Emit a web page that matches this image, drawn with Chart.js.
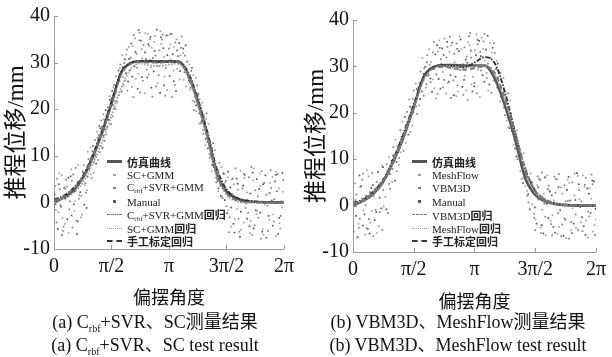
<!DOCTYPE html>
<html>
<head>
<meta charset="utf-8">
<script src="https://cdn.jsdelivr.net/npm/chart.js@4"></script>
<style>
body { margin: 0; width: 612px; height: 357px; background: #fff; position: relative; overflow: hidden;
       font-family: 'Liberation Serif', 'Noto Sans CJK SC', serif; color: #111; }
canvas { position: absolute; }
#c1 { left: 0; top: 0; }
#c2 { left: 300px; top: 4px; }
.legend { position: absolute; font-size: 11px; color: #222; }
.legend .row { height: 13.3px; display: flex; align-items: center; white-space: nowrap; }
.legend .mark { width: 15px; margin-right: 5px; display: flex; align-items: center; justify-content: center; }
.legend .cn { font-family: 'Noto Sans CJK SC'; font-weight: bold; }
.legend sub { font-size: 7px; vertical-align: -2px; }
.cap { position: absolute; font-size: 18px; white-space: nowrap; transform: translateX(-50%); }
.cap sub { font-size: 10px; vertical-align: -4px; }
.cap .cn { font-family: 'Noto Sans CJK SC'; }
</style>
</head>
<body>
<canvas id="c1" width="300" height="310"></canvas>
<canvas id="c2" width="312" height="310"></canvas>
<div class="legend" id="lg1" style="left:107px; top:155px;"></div>
<div class="legend" id="lg2" style="left:412px; top:155px;"></div>
<div class="cap" style="left:155px; top:307px;">(a) C<sub>rbf</sub>+SVR<span class="cn">、</span>SC<span class="cn">测量结果</span></div>
<div class="cap" style="left:155px; top:330px;">(a) C<sub>rbf</sub>+SVR<span class="cn">、</span>SC test result</div>
<div class="cap" style="left:458px; top:307px;">(b) VBM3D<span class="cn">、</span>MeshFlow<span class="cn">测量结果</span></div>
<div class="cap" style="left:458px; top:330px;">(b) VBM3D<span class="cn">、</span>MeshFlow test result</div>
<script>
// angles in degrees, shown as multiples of pi
const angleDeg = [0, 15, 30, 45, 60, 75, 90, 105, 120, 135, 150, 165, 180, 195, 210, 225, 240, 255, 270, 285, 300, 315, 330, 345, 360];
const xTickValues = [0, 90, 180, 270, 360];
const xTickLabels = ['0', 'π/2', 'π', '3π/2', '2π'];

// simulated curve (same for both panels)
const simCurve = [0, 1, 2.5, 5.2, 9.5, 14.8, 21.2, 27.8, 29.9, 30.3, 30.3, 30.2, 30.2, 30.2, 27.4, 21.6, 14.4, 6, 2.3, 0.9, 0.3, 0.1, 0, 0, 0];

// panel (a) regressions
const crbfReg = [0.3, 1.2, 2.8, 5.3, 9.6, 14.9, 21, 27.4, 29.7, 30.1, 30, 30, 30.1, 30.1, 27.6, 21.8, 14.6, 6.5, 2, 0.5, 0.1, 0, 0, 0, 0];
const scReg = [0.5, 0.9, 2, 4.2, 8, 12.8, 18.6, 24.5, 28.6, 29.8, 29.4, 29.3, 29.6, 29.8, 27.2, 21, 13.8, 5.9, 1.6, 0.3, 0, 0, 0, 0, 0];
const manualRegA = [0.6, 1.4, 3, 5.6, 10, 15.4, 21.6, 27.9, 29.9, 30.3, 30.4, 30.3, 30.3, 30.2, 27.9, 22.3, 15.2, 7.2, 2.8, 1.1, 0.4, 0.2, 0.1, 0, 0];

// panel (b) regressions
const vbmReg = [0.5, 1.2, 2.8, 5.4, 9.8, 15.2, 21.4, 27.4, 29.6, 29.9, 29.5, 29.3, 29.6, 30, 28.6, 23.2, 16, 8.2, 3.2, 1.2, 0.5, 0.2, 0.1, 0, 0];
const meshReg = [0.3, 1, 2.6, 5.1, 9.4, 14.8, 21, 27.2, 29.7, 30.1, 30, 29.8, 30, 30.2, 28.3, 22.6, 15.4, 7.6, 2.8, 1, 0.3, 0.1, 0, 0, 0];
const manualRegB = [0.6, 1.3, 3, 5.6, 10.1, 15.6, 21.8, 27.8, 29.9, 30.2, 30, 29.8, 30.8, 32, 30.7, 24.5, 15.8, 7.8, 3.2, 1.3, 0.5, 0.2, 0.1, 0, 0];

// panel (a) measured points [angle, displacement]
const scPts = [[2,3.5],[7,-2.1],[12,5.8],[17,-4.6],[22,1.2],[27,7.1],[32,-1.8],[37,4.4],[42,-3.2],[47,8],[52,2.6],[57,11.8],[62,6.4],[67,15.2],[72,10.8],[77,18.9],[82,14.6],[87,22.8],[92,18.4],[97,27.1],[102,23],[107,31.6],[112,26.2],[117,33.4],[122,24.8],[127,35.2],[132,27.6],[137,32.9],[142,23.4],[147,36.1],[152,29],[157,34.4],[162,25.6],[167,36.8],[172,31.2],[177,24.1],[182,33.9],[187,28.3],[192,35],[197,26.4],[202,32.1],[207,24.9],[212,29.6],[217,21.8],[222,26.7],[227,16.9],[232,21.4],[237,12.3],[242,16.8],[247,6.7],[252,11.2],[257,2.4],[262,7.6],[267,-3.1],[272,5.4],[277,-5.2],[282,3.9],[287,-1.4],[292,6.8],[297,-4.3],[302,2.1],[307,-6.6],[312,4.7],[317,-2.5],[322,6.2],[327,-5.8],[332,1.6],[337,-3.7],[342,5.5],[347,-7.2],[352,3],[357,-1.1],
  [3,-1.6],[8,6.2],[13,-3.4],[18,2.9],[23,-6.5],[28,4.6],[33,0.3],[38,8.1],[43,1.4],[48,3.7],[53,10.9],[58,6],[63,9.4],[68,13.9],[73,12.1],[78,17.8],[83,16.1],[88,21.4],[93,24.7],[98,23.6],[103,28.8],[108,26.9],[113,31.7],[118,28.3],[123,33.6],[128,26.5],[133,34.8],[138,30.9],[143,36.3],[148,27.4],[153,33.2],[158,35.7],[163,29.3],[168,34],[173,27],[178,35.9],[183,30.6],[188,33.4],[193,28.7],[198,31.6],[203,26.3],[208,30.1],[213,24.2],[218,27.3],[223,19.6],[228,22.1],[233,15.5],[238,17.9],[243,10.4],[248,11.6],[253,5.3],[258,6.8],[263,1.2],[268,4.3],[273,-1.7],[278,4.9],[283,-3.6],[288,2.7],[293,-5.9],[298,5.2],[303,0.6],[308,-4],[313,7.3],[318,-1.8],[323,3.5],[328,-6.9],[333,1.7],[338,4.2],[343,-2.6],[348,6.6],[353,-4.5],[358,2.3]];
const crbfPts = [[4,-4.3],[9,2.8],[14,-6.1],[19,4.9],[24,-1.5],[29,-5.4],[34,7.4],[39,0.8],[44,-2.6],[49,4.1],[54,9.3],[59,5.2],[64,13.4],[69,9.1],[74,17.6],[79,13.2],[84,20.4],[89,16.8],[94,25.2],[99,21.5],[104,29.6],[109,25.1],[114,32.8],[119,28.4],[124,22.6],[129,31.9],[134,36.4],[139,26.1],[144,30.8],[149,33.6],[154,22.7],[159,31.5],[164,27.3],[169,34.9],[174,22.9],[179,30.4],[184,36.2],[189,25.2],[194,31.4],[199,33.2],[204,27.9],[209,30.3],[214,24.6],[219,19.8],[224,25.1],[229,20.2],[234,14.7],[239,19.1],[244,9.6],[249,12.7],[254,4.3],[259,8.5],[264,0.9],[269,4.6],[274,-6.4],[279,1.8],[284,7.3],[289,-3.5],[294,0.6],[299,5.9],[304,-2.2],[309,7.6],[314,-4.9],[319,1.3],[324,-7.8],[329,4.2],[334,-0.7],[339,6.9],[344,-4.1],[349,2.4],[354,-5.6],[359,4.8],
  [0,-2.3],[5,5.1],[10,-0.6],[15,-5.2],[20,3.4],[25,0.2],[30,6],[35,-3.9],[40,1.5],[45,6.7],[50,2.1],[55,7.2],[60,11],[65,10.1],[70,14.4],[75,16.2],[80,15.6],[85,19.6],[90,22.4],[95,21.7],[100,26.1],[105,27.3],[110,29.9],[115,24],[120,31.1],[125,35.9],[130,28.9],[135,23.6],[140,33.8],[145,28.5],[150,35],[155,31],[160,24.9],[165,32.6],[170,36],[175,28.8],[180,33],[185,22.6],[190,34.3],[195,29.8],[200,35.6],[205,31.5],[210,26.8],[215,28.2],[220,21.6],[225,22.9],[230,17],[235,18.4],[240,13],[245,12.5],[250,7.6],[255,5.1],[260,3.6],[265,6.3],[270,-0.8],[275,-3.2],[280,5.1],[285,0.9],[290,-6.3],[295,3],[300,-1.2],[305,5.4],[310,-7],[315,2.6],[320,-3.3],[325,6.7],[330,-0.3],[335,-6.1],[340,3.1],[345,0.7],[350,6.1],[355,-2.9]];
const manualPtsA = [[1,1.7],[6,-5.7],[11,-0.9],[16,3.1],[21,-3.6],[26,5.6],[31,-0.4],[36,-6.8],[41,2.2],[46,6.3],[51,-1.2],[56,7.9],[61,12.1],[66,8.3],[71,16.4],[76,11.7],[81,19.8],[86,17.7],[91,23.9],[96,20.1],[101,28.3],[106,23.8],[111,30.7],[116,25.9],[121,34.1],[126,29.2],[131,24.4],[136,34.7],[141,30.2],[146,26.8],[151,35.5],[156,28.1],[161,37.1],[166,23.5],[171,33.1],[176,35.8],[181,27.1],[186,31.8],[191,23.9],[196,34.2],[201,29.4],[206,33.7],[211,26.2],[216,28.9],[221,22.7],[226,23.3],[231,17.4],[236,15.9],[241,11.6],[246,10.1],[251,8.2],[256,4.6],[261,1.4],[266,6.1],[271,-2.3],[276,3.2],[281,-4.6],[286,5.1],[291,-7.4],[296,3.6],[301,-0.2],[306,-5.1],[311,6.4],[316,-1.7],[321,2.9],[326,-6.3],[331,5.8],[336,-2.9],[341,0.4],[346,4.5],[351,-6.8],[356,0.2],
  [2.5,-0.4],[7.5,3.9],[12.5,-7],[17.5,0.8],[22.5,5.3],[27.5,-2.8],[32.5,2.4],[37.5,-4.1],[42.5,5],[47.5,-0.5],[52.5,5.5],[57.5,9.1],[62.5,8.6],[67.5,12.7],[72.5,15.9],[77.5,14.3],[82.5,18.7],[87.5,22],[92.5,20.9],[97.5,25],[102.5,26],[107.5,29],[112.5,27.7],[117.5,30.8],[122.5,27],[127.5,32.3],[132.5,37],[137.5,26.9],[142.5,32.2],[147.5,34],[152.5,24.6],[157.5,32.5],[162.5,30],[167.5,35.4],[172.5,25.1],[177.5,31.6],[182.5,36.1],[187.5,26],[192.5,32.6],[197.5,28.2],[202.5,33],[207.5,28.6],[212.5,25.8],[217.5,25],[222.5,20.8],[227.5,19.1],[232.5,18.8],[237.5,13.6],[242.5,13.4],[247.5,8],[252.5,7.4],[257.5,3],[262.5,4.4],[267.5,0.5],[272.5,6.6],[277.5,-1.1],[282.5,-6.5],[287.5,4],[292.5,-2],[297.5,6.1],[302.5,-3.5],[307.5,1.9],[312.5,-5.6],[317.5,5],[322.5,-2.2],[327.5,3.9],[332.5,-7.6],[337.5,2],[342.5,-5],[347.5,5.9],[352.5,-3.3],[357.5,6.3]];

// panel (b) measured points
const meshPts = [[3,4.8],[8,-3.9],[13,1.6],[18,-6.2],[23,6.3],[28,-1.2],[33,3.7],[38,-4.4],[43,8.6],[48,1.9],[53,10.4],[58,5.1],[63,14.2],[68,8.8],[73,18.1],[78,13.5],[83,22.9],[88,17.2],[93,26.3],[98,21.6],[103,31.8],[108,25.4],[113,33.7],[118,27.2],[123,23.1],[128,35.6],[133,28.8],[138,24.2],[143,33.1],[148,29.7],[153,23.6],[158,36.4],[163,30.5],[168,24.8],[173,34.6],[178,27.7],[183,36.9],[188,23.4],[193,33.8],[198,28.6],[203,35.1],[208,26.9],[213,31.2],[218,22.4],[223,27.5],[228,18.3],[233,22.6],[238,13.1],[243,16.2],[248,7.4],[253,11.3],[258,3.2],[263,6.9],[268,-1.8],[273,4.4],[278,-4.7],[283,2.6],[288,6.5],[293,-3.3],[298,1.1],[303,-6.1],[308,3.9],[313,-2.7],[318,5.6],[323,-5.3],[328,2.2],[333,6.4],[338,-3.6],[343,4.1],[348,-6.9],[353,1.5],[358,-4.2],
  [0.5,2.1],[5.5,-6.9],[10.5,4],[15.5,-1],[20.5,7.6],[25.5,-3.7],[30.5,2],[35.5,-5.9],[40.5,4.8],[45.5,-0.2],[50.5,7.3],[55.5,8.1],[60.5,9.9],[65.5,12.8],[70.5,11.5],[75.5,15.7],[80.5,17.9],[85.5,19.5],[90.5,21],[95.5,24.4],[100.5,25.9],[105.5,29.6],[110.5,27.9],[115.5,31],[120.5,25.3],[125.5,33.2],[130.5,30.6],[135.5,36],[140.5,26.4],[145.5,34.5],[150.5,30.9],[155.5,24.6],[160.5,33.7],[165.5,28],[170.5,35.2],[175.5,26.1],[180.5,33.5],[185.5,29.3],[190.5,36.2],[195.5,31.3],[200.5,24.8],[205.5,33],[210.5,28.5],[215.5,26],[220.5,24],[225.5,22.3],[230.5,16.9],[235.5,17.2],[240.5,12.1],[245.5,10.5],[250.5,8.3],[255.5,4.2],[260.5,5.6],[265.5,0.3],[270.5,-3],[275.5,5.8],[280.5,-0.9],[285.5,-6.4],[290.5,3.3],[295.5,-2.1],[300.5,5.7],[305.5,-4.6],[310.5,2.6],[315.5,-7],[320.5,4.9],[325.5,-0.6],[330.5,-4.8],[335.5,1.4],[340.5,6.5],[345.5,-3.2],[350.5,3.8],[355.5,-5.6]];
const vbmPts = [[1,-5.6],[5,2.4],[10,-2.8],[15,6.9],[20,-4.9],[25,2.9],[30,-6.6],[35,5.1],[40,-1.4],[45,3.3],[50,8.9],[55,3.6],[60,12.6],[65,7.4],[70,16.3],[75,11.8],[80,20.2],[85,15.9],[90,24.8],[95,19.7],[100,28.9],[105,23.7],[110,32.4],[115,26.6],[120,35.3],[125,24.1],[130,31.6],[135,27.1],[140,34.2],[145,23.2],[150,32.7],[155,25.9],[160,30.3],[165,34.1],[170,22.8],[175,31.9],[180,26.4],[185,34.8],[190,29.1],[195,37],[200,30.6],[205,24.3],[210,32.9],[215,27.6],[220,24.1],[225,19.5],[230,24.2],[235,16.1],[240,12.4],[245,12],[250,5.8],[255,8.1],[260,0.7],[265,4.9],[270,-5.3],[275,1.3],[280,7.1],[285,-2.4],[290,4.3],[295,-6.4],[300,2.8],[305,6.8],[310,-4.1],[315,0.9],[320,-7.1],[325,5],[330,-1.9],[335,3.4],[340,-5.5],[345,6],[350,-2.3],[355,4.6],[360,-3],
  [3.5,1.2],[8.5,-4.8],[13.5,5.6],[18.5,0.1],[23.5,-2.9],[28.5,7],[33.5,-0.9],[38.5,4.6],[43.5,-5.2],[48.5,6],[53.5,4.7],[58.5,7.9],[63.5,11.4],[68.5,10.2],[73.5,14.6],[78.5,17.1],[83.5,18],[88.5,23],[93.5,21.4],[98.5,26.4],[103.5,27.6],[108.5,26.2],[113.5,30.4],[118.5,33],[123.5,28.3],[128.5,34],[133.5,25.5],[138.5,31.9],[143.5,36.4],[148.5,27],[153.5,34.9],[158.5,29.2],[163.5,23.9],[168.5,32.1],[173.5,37.2],[178.5,29.9],[183.5,24.2],[188.5,33.1],[193.5,35.4],[198.5,27.5],[203.5,31.8],[208.5,35],[213.5,25.4],[218.5,28.6],[223.5,21.1],[228.5,21.9],[233.5,18],[238.5,15.3],[243.5,10],[248.5,10.9],[253.5,6.1],[258.5,2.1],[263.5,3.9],[268.5,-2.6],[273.5,6.3],[278.5,-5.9],[283.5,0.4],[288.5,3.6],[293.5,-4],[298.5,6.2],[303.5,-1.6],[308.5,-6.6],[313.5,4.4],[318.5,1],[323.5,-3.5],[328.5,6.9],[333.5,-5.3],[338.5,0.9],[343.5,4.5],[348.5,-1.3],[353.5,6.7],[358.5,-6.3]];
const manualPtsB = [[2,0.6],[7,-6.8],[12,4.2],[17,-1.9],[22,-5],[27,3.8],[32,-3.1],[37,7.2],[42,-0.6],[47,5.8],[52,-1.6],[57,9.7],[62,5.4],[67,11.6],[72,14.8],[77,19.1],[82,15.3],[87,20.9],[92,22.2],[97,25.5],[102,24.6],[107,29.9],[112,28.1],[117,24.5],[122,32.6],[127,27.3],[132,33.9],[137,30.1],[142,26.7],[147,35.1],[152,27.8],[157,33.3],[162,25.6],[167,31.5],[172,36.5],[177,24.6],[182,32.4],[187,35.5],[192,28.1],[197,33.6],[202,26.1],[207,34],[212,29.4],[217,25.1],[222,23.3],[227,21.9],[232,16.7],[237,17.9],[242,10.6],[247,11.7],[252,4.9],[257,6.3],[262,-0.8],[267,2.7],[272,-3.9],[277,5.6],[282,-6],[287,0.4],[292,3],[297,-4.6],[302,5.7],[307,-1],[312,-6.5],[317,3.4],[322,1.1],[327,-3.9],[332,7],[337,-0.3],[342,-4.4],[347,3.7],[352,-1.6],[357,5.2],
  [4.5,-2.2],[9.5,6.5],[14.5,-4.3],[19.5,2.1],[24.5,-6],[29.5,4.4],[34.5,-1.4],[39.5,1.7],[44.5,8.3],[49.5,-0.8],[54.5,6.8],[59.5,10.8],[64.5,9.4],[69.5,13.6],[74.5,15.1],[79.5,17.4],[84.5,21.3],[89.5,20.1],[94.5,25.1],[99.5,23],[104.5,28.4],[109.5,30.9],[114.5,27.4],[119.5,29.4],[124.5,34.6],[129.5,25.2],[134.5,32.5],[139.5,35.3],[144.5,28.1],[149.5,23.8],[154.5,33.8],[159.5,35.8],[164.5,27.1],[169.5,30.8],[174.5,33.4],[179.5,25.7],[184.5,35.7],[189.5,32.2],[194.5,26.7],[199.5,36.6],[204.5,29.6],[209.5,27.4],[214.5,30.6],[219.5,23.5],[224.5,24.8],[229.5,19],[234.5,19.8],[239.5,14.2],[244.5,13],[249.5,8.6],[254.5,6.7],[259.5,2.5],[264.5,5.1],[269.5,-0.4],[274.5,3.9],[279.5,-4.2],[284.5,6.1],[289.5,-2.7],[294.5,2.2],[299.5,-5.8],[304.5,4],[309.5,0.2],[314.5,-3],[319.5,6.2],[324.5,-5.9],[329.5,1.2],[334.5,4.6],[339.5,-2.5],[344.5,-6.3],[349.5,2.6],[354.5,5.4],[359.5,-0.7]];

const legendA = ['<span class="cn">仿真曲线</span>', 'SC+GMM', 'C<sub>rbf</sub>+SVR+GMM', 'Manual',
  'C<sub>rbf</sub>+SVR+GMM<span class="cn">回归</span>', 'SC+GMM<span class="cn">回归</span>', '<span class="cn">手工标定回归</span>'];
const legendB = ['<span class="cn">仿真曲线</span>', 'MeshFlow', 'VBM3D', 'Manual',
  'VBM3D<span class="cn">回归</span>', 'MeshFlow<span class="cn">回归</span>', '<span class="cn">手工标定回归</span>'];

const FONT = '"Liberation Serif", "Noto Sans CJK SC", serif';
Chart.defaults.font.family = FONT;

const styles = [
  { kind: 'line', color: '#555', width: 2.6, dash: [] },
  { kind: 'dot', color: '#a0a0a0' },
  { kind: 'dot', color: '#808080' },
  { kind: 'dot', color: '#585858' },
  { kind: 'line', color: '#777', width: 1.8, dash: [5, 3] },
  { kind: 'line', color: '#999', width: 1.8, dash: [1.5, 1.5] },
  { kind: 'line', color: '#333', width: 1.9, dash: [5, 1.5, 1.5, 1.5] }
];

function curve(ys) { return angleDeg.map((x, i) => ({ x: x, y: ys[i] })); }
function pts(arr) { return arr.map(p => ({ x: p[0], y: p[1] })); }

function buildSets(series) {
  // series order: sim, pts1, pts2, pts3, reg1, reg2, reg3
  return series.map((d, i) => {
    const s = styles[i];
    if (s.kind === 'line') {
      return { data: curve(d), showLine: true, pointRadius: 0, borderColor: s.color, borderWidth: s.width,
               borderDash: s.dash, cubicInterpolationMode: 'monotone', order: i === 0 ? 1 : 0 };
    }
    return { data: pts(d), showLine: false, pointRadius: 1.2, pointStyle: 'rect', borderWidth: 0,
             backgroundColor: s.color, order: 5 };
  });
}

const innerTicks = {
  id: 'innerTicks',
  afterDraw(chart) {
    const { ctx, scales: { x, y } } = chart;
    ctx.save();
    ctx.strokeStyle = '#999';
    ctx.lineWidth = 1;
    x.ticks.forEach(t => {
      const px = Math.round(x.getPixelForValue(t.value)) + 0.5;
      ctx.beginPath(); ctx.moveTo(px, y.bottom); ctx.lineTo(px, y.bottom - 4); ctx.stroke();
    });
    y.ticks.forEach(t => {
      const py = Math.round(y.getPixelForValue(t.value)) + 0.5;
      ctx.beginPath(); ctx.moveTo(x.left, py); ctx.lineTo(x.left + 4, py); ctx.stroke();
    });
    ctx.restore();
  }
};

function makeChart(id, series, yw, xh, padRight) {
  return new Chart(document.getElementById(id), {
    type: 'scatter',
    data: { datasets: buildSets(series) },
    options: {
      responsive: false,
      animation: false,
      layout: { padding: { top: 15, right: padRight, left: 0, bottom: 0 } },
      plugins: { legend: { display: false }, tooltip: { enabled: false } },
      scales: {
        x: {
          type: 'linear', min: 0, max: 360,
          afterBuildTicks(s) { s.ticks = xTickValues.map(v => ({ value: v })); },
          afterFit(s) { s.height = xh; },
          ticks: { callback: v => xTickLabels[xTickValues.indexOf(v)], font: { size: 20, family: FONT },
                   color: '#111', padding: 6, maxRotation: 0, autoSkip: false },
          grid: { drawOnChartArea: false, drawTicks: false },
          border: { color: '#999' },
          title: { display: true, text: '偏摆角度', font: { size: 18, family: FONT }, color: '#111',
                   padding: { top: 4, bottom: 0 } }
        },
        y: {
          min: -10, max: 40,
          afterFit(s) { s.width = yw; },
          ticks: { stepSize: 5, font: { size: 20, family: FONT }, color: '#111', padding: 4 },
          grid: { drawOnChartArea: false, drawTicks: false },
          border: { color: '#999' },
          title: { display: true, text: '推程位移/mm', font: { size: 23, family: FONT }, color: '#111',
                   padding: { top: 3, bottom: 0 } }
        }
      }
    },
    plugins: [innerTicks]
  });
}

function buildLegend(id, labels) {
  const el = document.getElementById(id);
  labels.forEach((lab, i) => {
    const s = styles[i];
    let mark;
    if (s.kind === 'dot') {
      mark = '<span style="display:inline-block;width:2.5px;height:2.5px;background:' + s.color + '"></span>';
    } else {
      const bs = i === 0 ? 'solid' : (i === 5 ? 'dotted' : 'dashed');
      const w = i === 0 ? 3 : (i === 6 ? 2 : 1);
      mark = '<span style="display:inline-block;width:15px;border-top:' + w + 'px ' + bs + ' ' + s.color + '"></span>';
    }
    el.insertAdjacentHTML('beforeend', '<div class="row"><span class="mark">' + mark + '</span><span>' + lab + '</span></div>');
  });
}

buildLegend('lg1', legendA);
buildLegend('lg2', legendB);

Promise.all([
  document.fonts.load('20px "Liberation Serif"'),
  document.fonts.load('18px "Noto Sans CJK SC"', '偏摆角度推程位移')
]).catch(() => {}).then(() => {
  makeChart('c1', [simCurve, scPts, crbfPts, manualPtsA, crbfReg, scReg, manualRegA], 54, 61, 11);
  makeChart('c2', [simCurve, meshPts, vbmPts, manualPtsB, vbmReg, meshReg, manualRegB], 53, 62, 10);
});
</script>
</body>
</html>
